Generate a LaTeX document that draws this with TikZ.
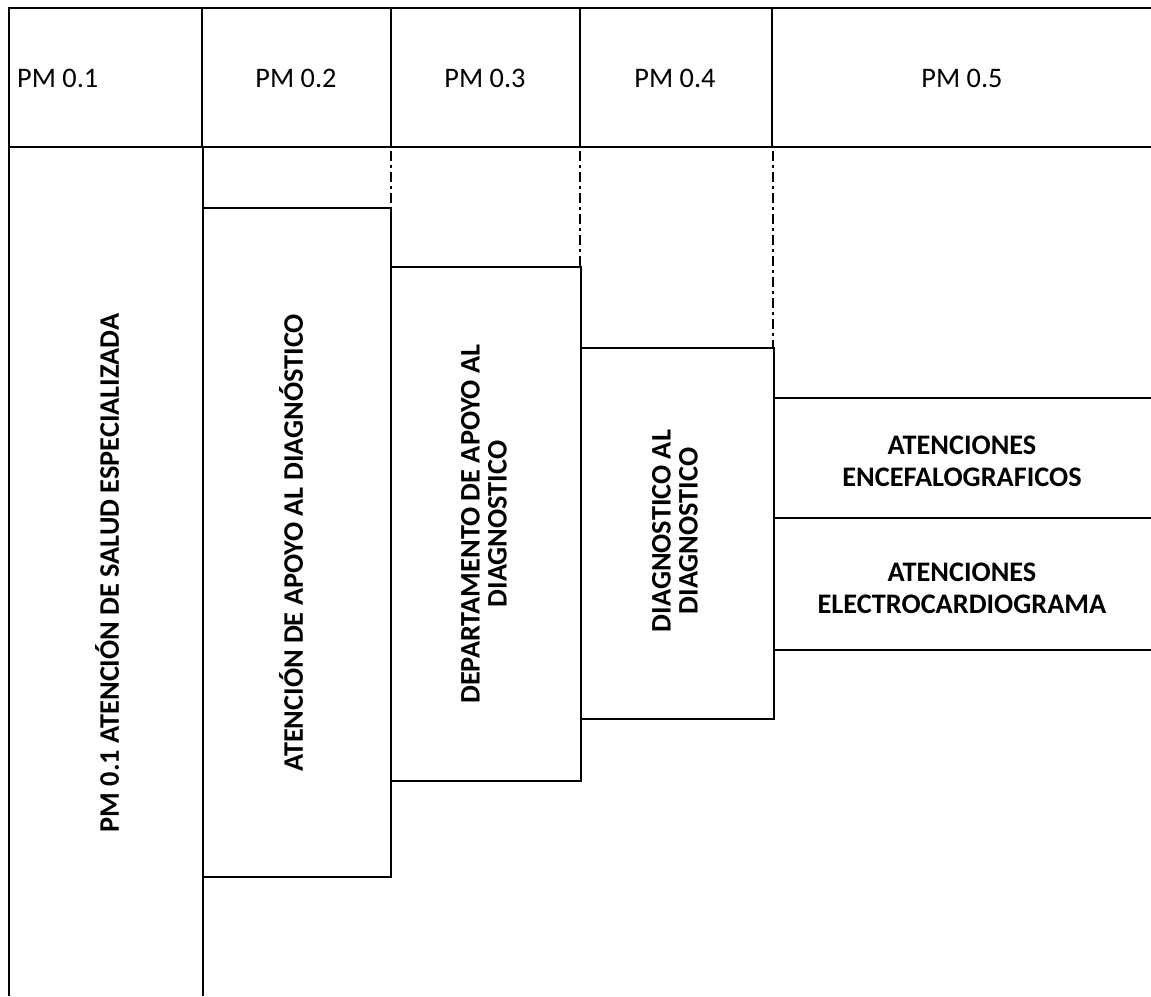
\documentclass[tikz,border=0pt]{standalone}
\usepackage{fontspec}
\setmainfont{Carlito}
\begin{document}
\begin{tikzpicture}[x=1pt,y=-1pt,
  ln/.style={line width=2.1pt},
  dd/.style={line width=2.1pt, dash pattern=on 10pt off 4pt on 3pt off 4pt},
  hd/.style={font=\fontsize{28.3}{32}\selectfont, inner sep=0pt},
  bx/.style={font=\bfseries\fontsize{28.3}{32}\selectfont, inner sep=0pt, align=center},
  vt/.style={inner sep=0pt, align=center, font=\bfseries\fontsize{28.3}{27}\selectfont, rotate=90}]
\useasboundingbox (0,0) rectangle (1151,996);
\fill[white] (0,0) rectangle (1151,996);
% header frame
\draw[ln] (1151,8) -- (9,8) -- (9,996);
\draw[ln] (9,147) -- (1151,147);
\foreach \x in {202,391,580,772} \draw[ln] (\x,8) -- (\x,147);
% left column
\draw[ln] (203,147) -- (203,996);
% PM 0.2 box
\draw[ln] (203,208) -- (391,208) -- (391,877) -- (203,877);
\draw[dd] (391,151) -- (391,208);
% PM 0.3 box
\draw[ln] (391,267) -- (581,267) -- (581,781) -- (391,781);
\draw[dd] (580,151) -- (580,267);
% PM 0.4 box
\draw[ln] (581,348) -- (774,348) -- (774,719) -- (581,719);
\draw[dd] (773,151) -- (773,348);
% PM 0.5 boxes
\draw[ln] (774,398) -- (1151,398);
\draw[ln] (774,518) -- (1151,518);
\draw[ln] (774,650) -- (1151,650);
% header texts
\node[hd, anchor=west] (h1) at (17,78) {PM 0.1};
\node[hd] (h2) at (296,78) {PM 0.2};
\node[hd] (h3) at (485,78) {PM 0.3};
\node[hd] (h4) at (675,78) {PM 0.4};
\node[hd] (h5) at (962,78) {PM 0.5};
% box texts
\node[vt] (t1) at (107,573) {PM 0.1 ATENCIÓN DE SALUD ESPECIALIZADA};
\node[vt] (t2) at (291,543) {ATENCIÓN DE APOYO AL DIAGNÓSTICO};
\node[vt] (t3) at (484,524) {DEPARTAMENTO DE APOYO AL\\DIAGNOSTICO};
\node[vt] (t4) at (675,531) {DIAGNOSTICO AL\\DIAGNOSTICO};
\node[bx] (t5) at (962,461) {ATENCIONES\\ENCEFALOGRAFICOS};
\node[bx] (t6) at (962,588) {ATENCIONES\\ELECTROCARDIOGRAMA};
\end{tikzpicture}
\end{document}
